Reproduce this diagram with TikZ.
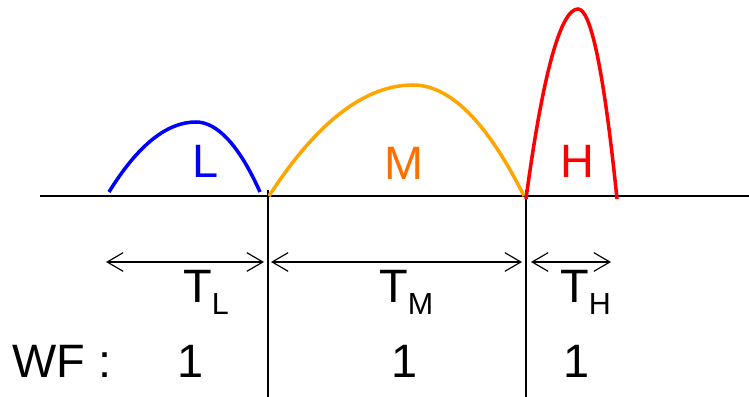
\documentclass[tikz,border=0pt]{standalone}
\usepackage{fontspec}
\setmainfont{Liberation Sans}
\usetikzlibrary{arrows.meta,positioning}
\definecolor{lowblue}{RGB}{0,0,255}
\definecolor{midorange}{RGB}{255,165,0}
\definecolor{midtext}{RGB}{255,110,0}
\definecolor{highred}{RGB}{255,0,0}
\newcommand{\bigfont}{\fontsize{40}{46}\selectfont}
\newcommand{\lowsub}[1]{\raisebox{-11pt}{\fontsize{26}{30}\selectfont #1}}

\begin{document}
\begin{tikzpicture}[x=0.03cm, y=-0.03cm,
    every node/.style={inner sep=0pt, font=\bigfont},
    pulse/.style={line width=3pt},
    span/.style={line width=1pt, {Straight Barb[length=4.8mm,width=5.6mm]}-{Straight Barb[length=4.8mm,width=5.6mm]}}]
        \useasboundingbox (0,0) rectangle (749,397);
        % time axis and phase borders
        \draw[line width=1.3pt] (40,196) -- (749,196);
        \draw[line width=1pt] (268,190) -- (268,397);
        \draw[line width=1pt] (526,190) -- (526,397);

        % pulses
        \draw[pulse, lowblue] (109,192) .. controls (138,145) and (167,122) .. (196,122)
            .. controls (217,122) and (239,145) .. (260,192);
        \draw[pulse, midorange] (269,196) .. controls (317,122) and (365,85) .. (413,85)
            .. controls (450,85) and (487,122) .. (524,196);
        \draw[pulse, highred] (526,199) .. controls (543,72) and (561,9) .. (578,9)
            .. controls (591,9) and (604,72) .. (617,199);

        \node[anchor=base, text=lowblue] (lowlbl) at (206,178) {L};
        \node[anchor=base, text=midtext] (midlbl) at (404,180) {M};
        \node[anchor=base, text=highred] (highlbl) at (577,178) {H};

        % durations
        \coordinate (tl0) at (106,262);
        \coordinate (tl1) at (264,262);
        \coordinate (tm0) at (271,262);
        \coordinate (tm1) at (522,262);
        \coordinate (th0) at (531,262);
        \coordinate (th1) at (611,262);
        \draw[span] (tl0) -- (tl1);
        \draw[span] (tm0) -- (tm1);
        \draw[span] (th0) -- (th1);

        \node[anchor=base west] (tlow) at (183,302) {T\lowsub{L}};
        \node[anchor=base west] (tmid) at (379,302) {T\lowsub{M}};
        \node[anchor=base west] (thigh) at (560,302) {T\lowsub{H}};

        % weighting factors
        \node[anchor=base west] (wf) at (12,377) {WF :};
        \node[anchor=base] (wflow) at (191,377) {1};
        \node[anchor=base] (wfmid) at (405,377) {1};
        \node[anchor=base] (wfhigh) at (577,377) {1};
    \end{tikzpicture}
\end{document}
